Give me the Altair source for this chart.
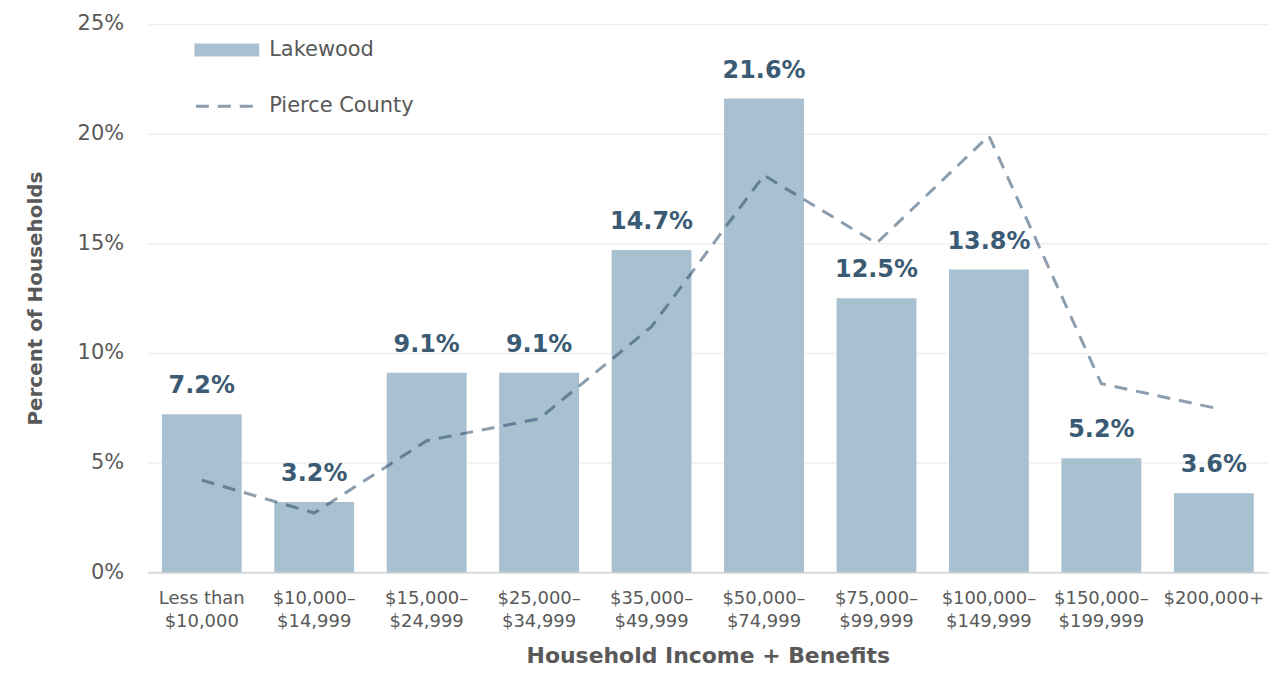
import altair as alt
import pandas as pd

categories = ["Less than|$10,000", "$10,000–|$14,999", "$15,000–|$24,999", "$25,000–|$34,999",
              "$35,000–|$49,999", "$50,000–|$74,999", "$75,000–|$99,999", "$100,000–|$149,999",
              "$150,000–|$199,999", "$200,000+"]
lakewood = [7.2, 3.2, 9.1, 9.1, 14.7, 21.6, 12.5, 13.8, 5.2, 3.6]
pierce = [4.2, 2.7, 6.0, 7.0, 11.2, 18.1, 15.0, 19.9, 8.6, 7.5]

df = pd.DataFrame({"cat": categories, "lakewood": lakewood, "pierce": pierce,
                   "s1": "Lakewood", "s2": "Pierce County"})
df["label"] = [f"{v:.1f}%" for v in lakewood]

FONT = "DejaVu Sans"
GRAY = "#595959"
LINE = "#1a3d5c"

x = alt.X("cat:N", sort=categories,
          scale=alt.Scale(paddingInner=0.29, paddingOuter=0.127),
          axis=alt.Axis(title="Household Income + Benefits", labelAngle=0,
                        labelExpr="split(datum.label, '|')", labelLineHeight=23,
                        labelFontSize=18, labelColor=GRAY, labelFont=FONT, labelPadding=17,
                        labelBaseline="top",
                        ticks=False, domainColor="#d9d9d9", domainWidth=2,
                        titleFontSize=22, titleFont=FONT, titleFontWeight="bold",
                        titleColor=GRAY, titlePadding=16, grid=False))

yscale = alt.Scale(domain=[0, 25], nice=False)
yaxis = alt.Axis(title="Percent of Households", values=[0, 5, 10, 15, 20, 25],
                 labelExpr="datum.value + '%'", labelFontSize=21, labelColor=GRAY,
                 labelFont=FONT, labelPadding=24, ticks=False, domain=False,
                 gridColor="#efefef", gridWidth=1.5,
                 titleFontSize=20, titleFont=FONT, titleFontWeight="bold",
                 titleColor=GRAY, titlePadding=32)

bars = alt.Chart(df).mark_bar(color="#a9c0d0").encode(
    x=x,
    y=alt.Y("lakewood:Q", scale=yscale, axis=yaxis),
    fill=alt.Fill("s1:N", scale=alt.Scale(domain=["Lakewood"], range=["#a9c0d0"]),
                  legend=alt.Legend(title=None, orient="none", legendX=47, legendY=13,
                                    symbolType="M-1,-0.5H4V0.5H-1Z", symbolSize=676,
                                    symbolOpacity=1, symbolStrokeWidth=0,
                                    labelOffset=49, labelFontSize=21, labelColor=GRAY,
                                    labelFont=FONT, padding=0)),
)

labels = alt.Chart(df).mark_text(baseline="alphabetic", dy=-21, fontSize=24,
                                 fontWeight="bold", color="#3b5a73", font=FONT).encode(
    x=alt.X("cat:N", sort=categories),
    y=alt.Y("lakewood:Q"),
    text="label:N",
)

line = alt.Chart(df).mark_line(strokeWidth=3, strokeDash=[13, 9], opacity=0.5).encode(
    x=alt.X("cat:N", sort=categories),
    y=alt.Y("pierce:Q"),
    stroke=alt.Stroke("s2:N", scale=alt.Scale(domain=["Pierce County"], range=[LINE]),
                      legend=alt.Legend(title=None, orient="none", legendX=47, legendY=51,
                                        symbolType="stroke", symbolSize=3600,
                                        symbolDash=[13, 9], symbolStrokeWidth=3,
                                        symbolOpacity=0.5,
                                        labelOffset=12, labelFontSize=21, labelColor=GRAY,
                                        labelFont=FONT, padding=0)),
)

chart = alt.layer(bars, line, labels).resolve_legend(fill="independent", stroke="independent").properties(
    width=1124, height=550,
    autosize=alt.AutoSizeParams(type="none"),
    padding={"left": 140, "top": 15, "right": 5, "bottom": 95},
).configure(font=FONT).configure_view(stroke=None)

chart.save("out.html", embed_options={"renderer": "svg", "actions": False})
